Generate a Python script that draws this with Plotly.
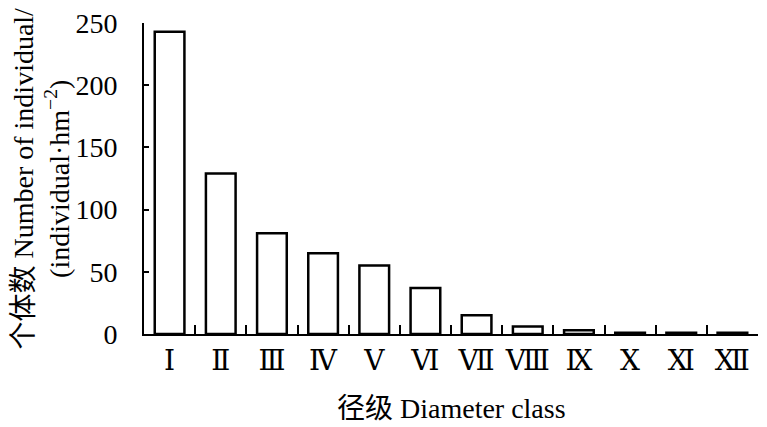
import plotly.graph_objects as go

categories = ["Ⅰ", "Ⅱ", "Ⅲ", "Ⅳ", "Ⅴ", "Ⅵ", "Ⅶ", "Ⅷ", "Ⅸ", "Ⅹ", "Ⅺ", "Ⅻ"]
values = [243, 129, 81, 65, 55, 37, 15, 6, 3, 1, 1, 1]
y_ticks = [0, 50, 100, 150, 200, 250]

FONT = "Liberation Serif, Times New Roman, DejaVu Serif, Noto Sans CJK SC"
FS = 28

fig = go.Figure(go.Bar(
    x=categories, y=values,
    marker=dict(color="white", line=dict(color="black", width=2.5)),
))

# page body has an 8px default margin; compensate
OFF = 8
W, H = 767 - OFF, 427 - OFF
x0, x1, y0, y1 = 144 - OFF, 758 - OFF, 23 - OFF, 334 - OFF
L, R, T, B = x0, W - x1, y0, H - y1

fig.update_layout(
    width=W, height=H,
    margin=dict(l=L, r=R, t=T, b=B, pad=0, autoexpand=False),
    paper_bgcolor="white", plot_bgcolor="white",
    font=dict(family=FONT, size=FS, color="black"),
    bargap=0.42,
    showlegend=False,
)
fig.update_xaxes(
    type="category", showline=True, linecolor="black", linewidth=2,
    ticks="inside", tickson="boundaries", ticklen=9, tickwidth=2, tickcolor="black",
    showgrid=False, tickfont=dict(size=FS, family=FONT), tickangle=0, automargin=False,
)
fig.update_yaxes(
    range=[0, 250], tickvals=y_ticks, showline=True, linecolor="black", linewidth=2,
    ticks="inside", ticklen=5, tickwidth=2, tickcolor="black",
    showgrid=False, zeroline=False, tickfont=dict(size=FS, family=FONT),
    ticklabelstandoff=19, automargin=False, ticklabeloverflow="allow",
)
pw = x1 - x0
ph = y1 - y0
fig.add_annotation(
    text="个体数 Number of individual/<br>(individual·hm<sup>−2</sup>)",
    xref="paper", yref="paper", x=(41 - OFF - x0) / pw, y=0.5,
    xanchor="center", yanchor="middle", textangle=-90, showarrow=False,
    font=dict(size=FS, family=FONT),
)
fig.add_annotation(
    text="径级 Diameter class",
    xref="paper", yref="paper", x=0.5, y=-(408 - OFF - y1) / ph,
    xanchor="center", yanchor="middle", showarrow=False,
    font=dict(size=FS, family=FONT),
)
fig.write_html("out.html")
